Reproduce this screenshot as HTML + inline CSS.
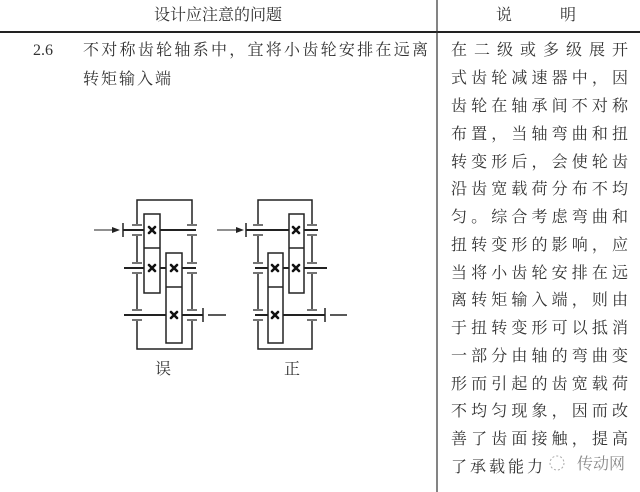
<!DOCTYPE html>
<html><head><meta charset="utf-8"><style>
html,body{margin:0;padding:0;background:#fff;}
svg{display:block}
text{font-family:"Liberation Serif","Noto Serif CJK SC","Noto Sans CJK SC",serif;fill:#333;font-size:16px;}
</style></head><body>
<svg width="640" height="492" viewBox="0 0 640 492" xmlns="http://www.w3.org/2000/svg">
<rect width="640" height="492" fill="#fff"/>
<line x1="0" y1="32" x2="640" y2="32" stroke="#222" stroke-width="2"/>
<line x1="437" y1="0" x2="437" y2="492" stroke="#333" stroke-width="1.2"/>
<text x="218" y="20" text-anchor="middle" font-size="15">设计应注意的问题</text>
<text x="496" y="20" font-size="15">说</text>
<text x="560" y="20" font-size="15">明</text>
<text x="33" y="55">2.6</text>
<text x="83" y="55" textLength="345" lengthAdjust="spacing">不对称齿轮轴系中，宜将小齿轮安排在远离</text>
<text x="83" y="84" letter-spacing="2">转矩输入端</text>
<g>
<text x="451" y="55" textLength="177" lengthAdjust="spacing">在二级或多级展开</text>
<text x="451" y="83" textLength="177" lengthAdjust="spacing">式齿轮减速器中，因</text>
<text x="451" y="111" textLength="177" lengthAdjust="spacing">齿轮在轴承间不对称</text>
<text x="451" y="139" textLength="177" lengthAdjust="spacing">布置，当轴弯曲和扭</text>
<text x="451" y="167" textLength="177" lengthAdjust="spacing">转变形后，会使轮齿</text>
<text x="451" y="194" textLength="177" lengthAdjust="spacing">沿齿宽载荷分布不均</text>
<text x="451" y="222" textLength="177" lengthAdjust="spacing">匀。综合考虑弯曲和</text>
<text x="451" y="250" textLength="177" lengthAdjust="spacing">扭转变形的影响，应</text>
<text x="451" y="278" textLength="177" lengthAdjust="spacing">当将小齿轮安排在远</text>
<text x="451" y="305" textLength="177" lengthAdjust="spacing">离转矩输入端，则由</text>
<text x="451" y="333" textLength="177" lengthAdjust="spacing">于扭转变形可以抵消</text>
<text x="451" y="361" textLength="177" lengthAdjust="spacing">一部分由轴的弯曲变</text>
<text x="451" y="389" textLength="177" lengthAdjust="spacing">形而引起的齿宽载荷</text>
<text x="451" y="416" textLength="177" lengthAdjust="spacing">不均匀现象，因而改</text>
<text x="451" y="444" textLength="177" lengthAdjust="spacing">善了齿面接触，提高</text>
<text x="451" y="472" letter-spacing="3">了承载能力</text>
</g>
<text x="577" y="469" font-size="14" style="fill:#888">传动网</text>
<circle cx="557" cy="463" r="7" fill="none" stroke="#aaa" stroke-dasharray="2 2"/>

<g stroke="#222" stroke-width="1.5" fill="none">
<polyline points="137,224 137,200 192,200 192,224"/>
<line x1="137" y1="236" x2="137" y2="262"/><line x1="192" y1="236" x2="192" y2="262"/>
<line x1="137" y1="274" x2="137" y2="309"/><line x1="192" y1="274" x2="192" y2="309"/>
<polyline points="137,321 137,349 192,349 192,321"/>
<rect x="144" y="214" width="16" height="79" fill="#fff"/><line x1="144" y1="248" x2="160" y2="248"/>
<rect x="166" y="253" width="16" height="90" fill="#fff"/><line x1="166" y1="287" x2="182" y2="287"/>
<line x1="123" y1="230" x2="144" y2="230" stroke-width="2"/><line x1="160" y1="230" x2="196" y2="230" stroke-width="2"/>
<line x1="123" y1="223" x2="123" y2="237"/>
<line x1="124" y1="268" x2="144" y2="268" stroke-width="2"/><line x1="160" y1="268" x2="166" y2="268" stroke-width="2"/><line x1="182" y1="268" x2="196" y2="268" stroke-width="2"/>
<line x1="124" y1="315" x2="166" y2="315" stroke-width="2"/><line x1="182" y1="315" x2="203" y2="315" stroke-width="2"/>
<line x1="203" y1="308" x2="203" y2="322"/><line x1="208" y1="315" x2="226" y2="315"/>
<line x1="94" y1="230" x2="118" y2="230" stroke-width="1"/>
<path stroke-width="1.2" d="M132,225h10M132,235h10M187,225h10M187,235h10M132,263h10M132,273h10M187,263h10M187,273h10M132,310h10M132,320h10M187,310h10M187,320h10"/>
</g>
<polygon points="120,230 112,227 112,233" fill="#222"/>

<g stroke="#222" stroke-width="1.5" fill="none">
<polyline points="258,224 258,200 312,200 312,224"/>
<line x1="258" y1="236" x2="258" y2="262"/><line x1="312" y1="236" x2="312" y2="262"/>
<line x1="258" y1="274" x2="258" y2="309"/><line x1="312" y1="274" x2="312" y2="309"/>
<polyline points="258,321 258,349 312,349 312,321"/>
<rect x="289" y="214" width="15" height="79" fill="#fff"/><line x1="289" y1="248" x2="304" y2="248"/>
<rect x="268" y="253" width="15" height="90" fill="#fff"/><line x1="268" y1="287" x2="283" y2="287"/>
<line x1="246" y1="230" x2="289" y2="230" stroke-width="2"/><line x1="304" y1="230" x2="318" y2="230" stroke-width="2"/>
<line x1="246" y1="223" x2="246" y2="237"/>
<line x1="255" y1="268" x2="268" y2="268" stroke-width="2"/><line x1="283" y1="268" x2="289" y2="268" stroke-width="2"/><line x1="304" y1="268" x2="327" y2="268" stroke-width="2"/>
<line x1="255" y1="315" x2="268" y2="315" stroke-width="2"/><line x1="283" y1="315" x2="325" y2="315" stroke-width="2"/>
<line x1="325" y1="308" x2="325" y2="322"/><line x1="330" y1="315" x2="347" y2="315"/>
<line x1="217" y1="230" x2="241" y2="230" stroke-width="1"/>
<path stroke-width="1.2" d="M253,225h10M253,235h10M307,225h10M307,235h10M253,263h10M253,273h10M307,263h10M307,273h10M253,310h10M253,320h10M307,310h10M307,320h10"/>
</g>
<polygon points="244,230 236,227 236,233" fill="#222"/>

<!-- X marks -->
<g stroke="#111" stroke-width="2.6" stroke-linecap="round">
<path d="M149,227l6,6M155,227l-6,6 M149,265l6,6M155,265l-6,6 M171,265l6,6M177,265l-6,6 M171,312l6,6M177,312l-6,6"/>
<path d="M293,227l6,6M299,227l-6,6 M293,265l6,6M299,265l-6,6 M272,265l6,6M278,265l-6,6 M272,312l6,6M278,312l-6,6"/>
</g>
<text x="163" y="374" text-anchor="middle">误</text>
<text x="292" y="374" text-anchor="middle">正</text>
</svg>
</body></html>
